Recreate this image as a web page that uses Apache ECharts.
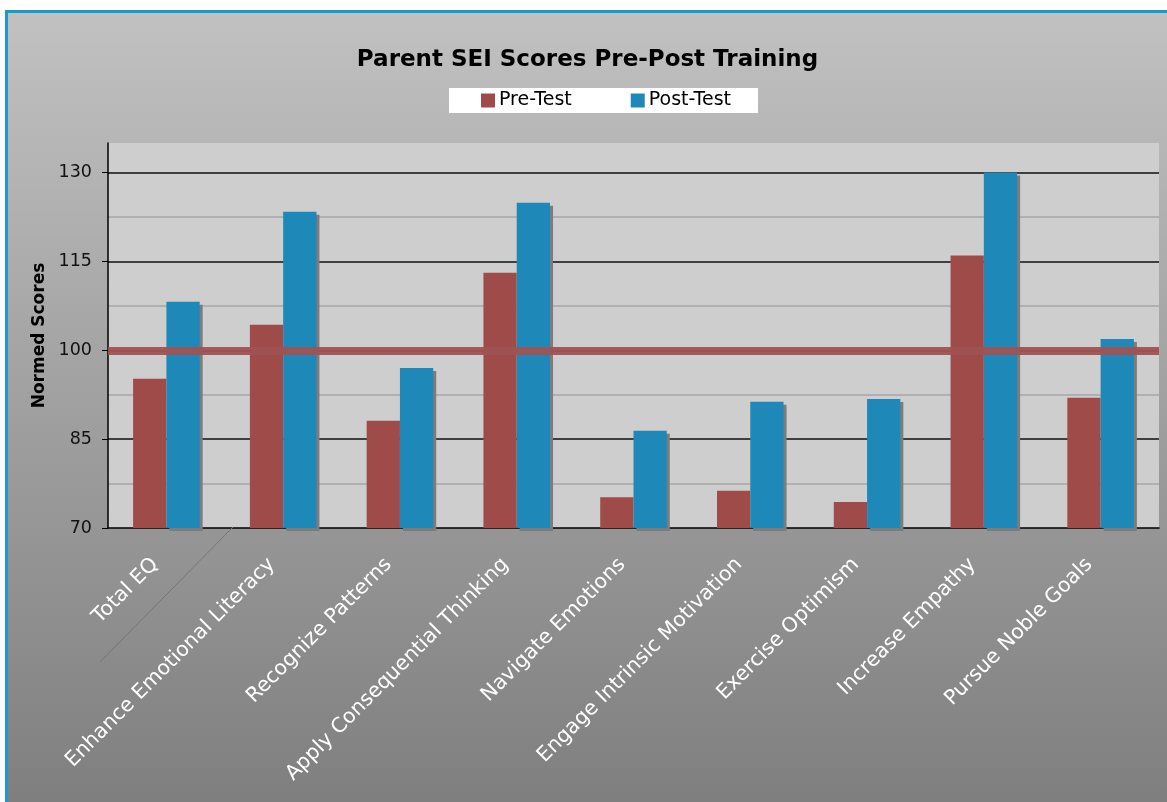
<!DOCTYPE html>
<html>
<head>
<meta charset="utf-8">
<script src="https://cdn.jsdelivr.net/npm/echarts@6/dist/echarts.min.js"></script>
<style>
  html, body { margin: 0; padding: 0; background: #fff; overflow: hidden; }
  #frame {
    position: absolute; left: 5px; top: 10px; width: 1170px; height: 800px;
    border-left: 3px solid #1a9cc6; border-top: 3px solid #1a9cc6;
  }
  #chart { width: 1159px; height: 789px; }
</style>
</head>
<body>
<div id="frame"><div id="chart"></div></div>
<script>
const categories = [
  'Total EQ', 'Enhance Emotional Literacy', 'Recognize Patterns',
  'Apply Consequential Thinking', 'Navigate Emotions', 'Engage Intrinsic Motivation',
  'Exercise Optimism', 'Increase Empathy', 'Pursue Noble Goals'
];
const preTest = [95.2, 104.3, 88.1, 113.1, 75.2, 76.3, 74.4, 116.0, 92.0];
const postTest = [108.2, 123.4, 97.0, 124.9, 86.4, 91.3, 91.8, 130.0, 101.9];
const normLine = 100;

const font = 'DejaVu Sans';
let myChart = echarts.init(document.getElementById('chart'));

myChart.setOption({
  animation: false,
  backgroundColor: new echarts.graphic.LinearGradient(0, 0, 0, 1, [
    { offset: 0, color: '#c1c1c1' },
    { offset: 1, color: '#7f7f7f' }
  ]),
  title: {
    text: 'Parent SEI Scores Pre-Post Training',
    left: 'center',
    top: 31,
    textStyle: { fontFamily: font, fontSize: 23, fontWeight: 'bold', color: '#000' }
  },
  legend: {
    top: 75,
    left: 441,
    backgroundColor: '#fff',
    padding: [3, 27, 3, 32],
    itemWidth: 14,
    itemHeight: 14,
    itemGap: 59,
    icon: 'rect',
    textStyle: { fontFamily: font, fontSize: 19, color: '#000', padding: [0, 0, 0, -1] },
    data: ['Pre-Test', 'Post-Test']
  },
  grid: {
    left: 100, right: 8, top: 130, bottom: 274,
    show: true, backgroundColor: '#cecece', borderWidth: 0
  },
  xAxis: {
    type: 'category',
    data: categories,
    axisLine: { lineStyle: { color: '#000', width: 1.5 } },
    axisTick: { length: 6, lineStyle: { color: '#000' } },
    axisLabel: {
      interval: 0, rotate: 45, margin: 22, padding: [0, 16, 0, 0],
      color: '#fff', fontFamily: font, fontSize: 20.5
    }
  },
  yAxis: [
    {
      // light minor grid
      type: 'value', min: 70, max: 135, interval: 7.5, position: 'right',
      axisLine: { show: false }, axisTick: { show: false }, axisLabel: { show: false },
      splitLine: { show: true, showMinLine: false, showMaxLine: false, lineStyle: { color: '#a6a6a6', width: 1.5 } }
    },
    {
      type: 'value', min: 70, max: 135, interval: 15, position: 'left',
      name: 'Normed Scores',
      nameLocation: 'middle',
      nameRotate: 90,
      nameGap: 60,
      nameTextStyle: { fontFamily: font, fontSize: 17, fontWeight: 'bold', color: '#000' },
      axisLine: { show: true, lineStyle: { color: '#000', width: 1.5 } },
      axisTick: { show: true, length: 6, lineStyle: { color: '#000' } },
      axisLabel: { showMaxLabel: false, margin: 16, color: '#111', fontFamily: font, fontSize: 17.5 },
      splitLine: { show: true, showMinLine: false, showMaxLine: false, lineStyle: { color: '#1a1a1a', width: 1.5 } }
    }
  ],
  series: [
    {
      name: 'Pre-Test',
      type: 'bar',
      yAxisIndex: 1,
      data: preTest,
      barGap: '0%',
      barCategoryGap: '43%',
      itemStyle: { color: '#9f4b4a' }
    },
    {
      name: 'Post-Test',
      type: 'bar',
      yAxisIndex: 1,
      data: postTest,
      itemStyle: {
        color: '#1e89b9',
        shadowColor: '#7c7c7c', shadowBlur: 0, shadowOffsetX: 3, shadowOffsetY: 3
      },
      markLine: {
        silent: true,
        symbol: ['none', 'none'],
        label: { show: false },
        lineStyle: { color: '#a05252', width: 8, type: 'solid', opacity: 0.95 },
        data: [{ yAxis: normLine }]
      }
    }
  ],
  graphic: [
    {
      type: 'line',
      shape: { x1: 225, y1: 514, x2: 92, y2: 649 },
      style: { stroke: '#777', lineWidth: 1 },
      z: 100
    }
  ]
});
</script>
</body>
</html>
